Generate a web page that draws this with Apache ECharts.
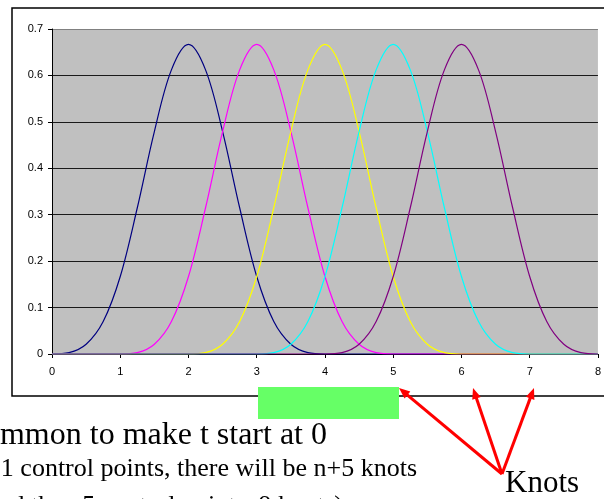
<!DOCTYPE html>
<html>
<head>
<meta charset="utf-8">
<script src="https://cdn.jsdelivr.net/npm/echarts@6/dist/echarts.min.js"></script>
<style>html,body{margin:0;padding:0;background:#fff;overflow:hidden}#c{width:604px;height:499px}</style>
</head>
<body>
<div id="c"></div>
<script>
// x positions of samples
const xs = [0,0.25,0.5,0.75,1,1.25,1.5,1.75,2,2.25,2.5,2.75,3,3.25,3.5,3.75,4,4.25,4.5,4.75,5,5.25,5.5,5.75,6,6.25,6.5,6.75,7,7.25,7.5,7.75,8];
// basis function curves
const navySeries = [0,0.003,0.021,0.070,0.167,0.315,0.479,0.612,0.667,0.612,0.479,0.315,0.167,0.070,0.021,0.003,0,0,0,0,0,0,0,0,0,0,0,0,0,0,0,0,0];
const magentaSeries = [0,0,0,0,0,0.003,0.021,0.070,0.167,0.315,0.479,0.612,0.667,0.612,0.479,0.315,0.167,0.070,0.021,0.003,0,0,0,0,0,0,0,0,0,0,0,0,0];
const yellowSeries = [0,0,0,0,0,0,0,0,0,0.003,0.021,0.070,0.167,0.315,0.479,0.612,0.667,0.612,0.479,0.315,0.167,0.070,0.021,0.003,0,0,0,0,0,0,0,0,0];
const cyanSeries = [0,0,0,0,0,0,0,0,0,0,0,0,0,0.003,0.021,0.070,0.167,0.315,0.479,0.612,0.667,0.612,0.479,0.315,0.167,0.070,0.021,0.003,0,0,0,0,0];
const purpleSeries = [0,0,0,0,0,0,0,0,0,0,0,0,0,0,0,0,0,0.003,0.021,0.070,0.167,0.315,0.479,0.612,0.667,0.612,0.479,0.315,0.167,0.070,0.021,0.003,0];
const seriesColors = ['#000080','#ff00ff','#ffff00','#00ffff','#800080'];
const textLine1 = "It's common to make t start at 0";
const textLine2 = "If n+1 control points, there will be n+5 knots";
const textLine3 = "(and then 5 control points, 9 knots)";
const knotsLabel = "Knots";

const chart = echarts.init(document.getElementById('c'), null, {renderer: 'canvas'});
function pairs(ys) { return xs.map((x, i) => [x, ys[i]]); }

function arrow(x1, y1, x2, y2) {
  const a = Math.atan2(y2 - y1, x2 - x1);
  const L = 11, W = 4.5;
  const bx = x2 - L * Math.cos(a), by = y2 - L * Math.sin(a);
  const px = -Math.sin(a), py = Math.cos(a);
  return [
    {type: 'line', shape: {x1: x1, y1: y1, x2: x2 - 6 * Math.cos(a), y2: y2 - 6 * Math.sin(a)},
     style: {stroke: '#ff0000', lineWidth: 3}, z: 10},
    {type: 'polygon', shape: {points: [[x2, y2], [bx + W * px, by + W * py], [bx - W * px, by - W * py]]},
     style: {fill: '#ff0000'}, z: 10}
  ];
}

const allSeries = [navySeries, magentaSeries, yellowSeries, cyanSeries, purpleSeries].map((ys, i) => ({
  type: 'line',
  data: pairs(ys),
  showSymbol: false,
  smooth: 0.35,
  lineStyle: {color: seriesColors[i], width: 1.2},
  itemStyle: {color: seriesColors[i]}
}));

const textFont = '"Liberation Serif", "Times New Roman", serif';
const graphics = [
  {type: 'rect', shape: {x: 12, y: 8, width: 640, height: 388}, style: {fill: 'none', stroke: '#000', lineWidth: 1.5}, z: 1},
  {type: 'rect', shape: {x: 258, y: 387, width: 141, height: 32}, style: {fill: '#66ff66'}, z: 5},
  ...arrow(502, 474, 399, 388),
  ...arrow(502, 474, 473, 388),
  ...arrow(502, 474, 534, 388),
  {type: 'text', x: 327, y: 436, style: {text: textLine1, fontSize: 32, fontFamily: textFont, fill: '#000', align: 'right', verticalAlign: 'middle'}, z: 5},
  {type: 'text', x: 417, y: 469, style: {text: textLine2, fontSize: 26, fontFamily: textFont, fill: '#000', align: 'right', verticalAlign: 'middle'}, z: 5},
  {type: 'text', x: 343, y: 506, style: {text: textLine3, fontSize: 26, fontFamily: textFont, fill: '#000', align: 'right', verticalAlign: 'middle'}, z: 5},
  {type: 'text', x: 505, y: 483.5, style: {text: knotsLabel, fontSize: 31, fontFamily: textFont, fill: '#000', align: 'left', verticalAlign: 'middle'}, z: 5}
];

chart.setOption({
  animation: false,
  backgroundColor: '#ffffff',
  grid: {left: 52, top: 29, right: 1, bottom: 145, show: true, backgroundColor: '#c0c0c0', borderWidth: 0},
  xAxis: {
    type: 'value', min: 0, max: 8, interval: 1,
    axisLine: {show: true, onZero: false, lineStyle: {color: '#000', width: 1}},
    axisTick: {show: true, length: 4, lineStyle: {color: '#000'}},
    axisLabel: {color: '#000', fontSize: 11, fontFamily: '"Liberation Sans", Arial, sans-serif', margin: 12, showMaxLabel: true, showMinLabel: true},
    splitLine: {show: false}
  },
  yAxis: {
    type: 'value', min: 0, max: 0.7, interval: 0.1,
    axisLine: {show: true, lineStyle: {color: '#000', width: 1}},
    axisTick: {show: true, length: 4, lineStyle: {color: '#000'}},
    axisLabel: {color: '#000', fontSize: 11, fontFamily: '"Liberation Sans", Arial, sans-serif', margin: 9},
    splitLine: {show: true, lineStyle: {color: ['#000', '#1a1a1a', '#1a1a1a', '#1a1a1a', '#1a1a1a', '#1a1a1a', '#1a1a1a', '#808080'], width: 1}}
  },
  series: allSeries,
  graphic: graphics
});
</script>
</body>
</html>
